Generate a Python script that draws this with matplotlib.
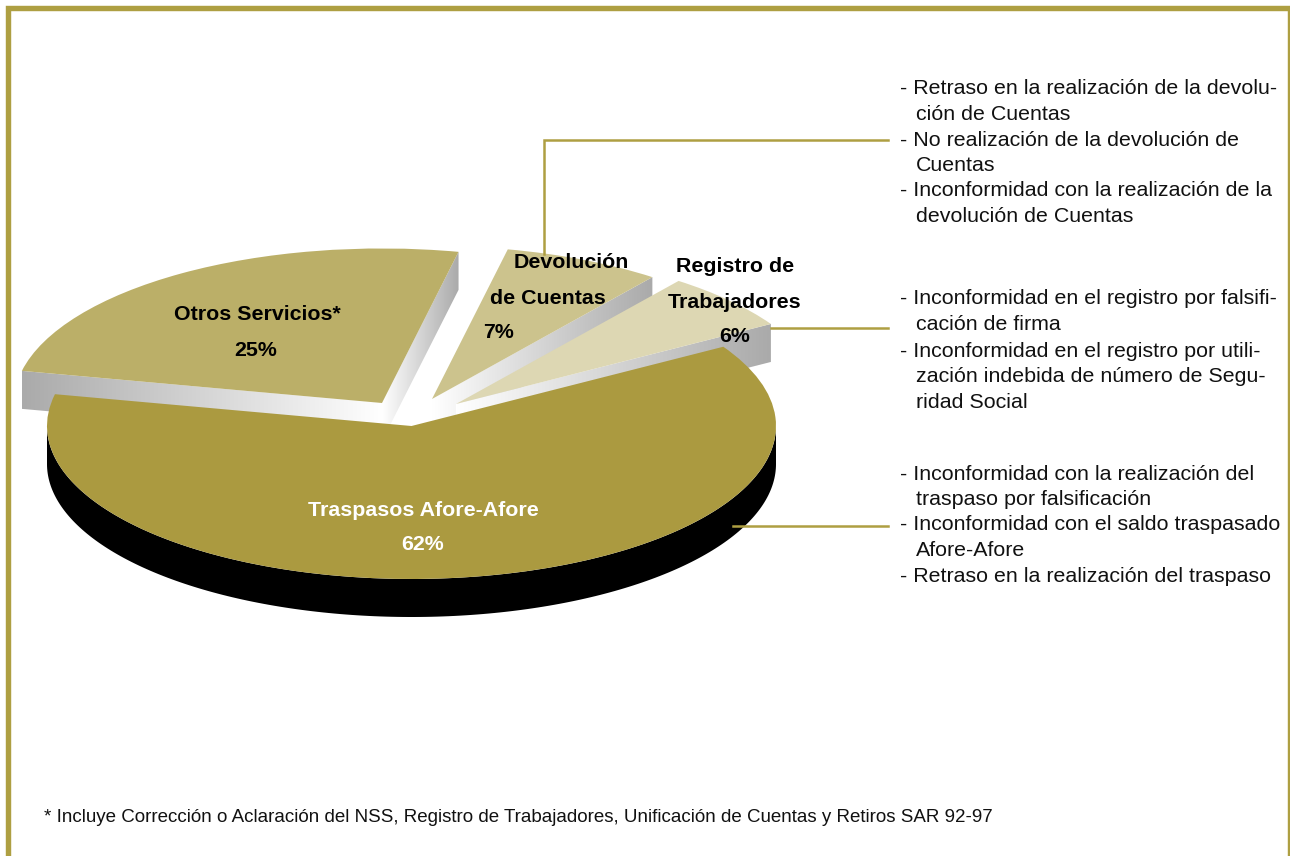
import numpy as np
import matplotlib
matplotlib.use("Agg")
import matplotlib.pyplot as plt
from matplotlib.colors import LinearSegmentedColormap
from matplotlib.patches import Polygon

W, H = 1290, 856
plt.rcParams["font.family"] = ["Liberation Sans", "DejaVu Sans"]

# chart data
slices = ["Otros Servicios*", "Devolución\nde Cuentas", "Registro de\nTrabajadores", "Traspasos Afore-Afore"]
shares = [25, 7, 6, 62]
footnote = "* Incluye Corrección o Aclaración del NSS, Registro de Trabajadores, Unificación de Cuentas y Retiros SAR 92-97"
notes_devolucion = [
    "- Retraso en la realización de la devolu-",
    "ción de Cuentas",
    "- No realización de la devolución de",
    "Cuentas",
    "- Inconformidad con la realización de la",
    "devolución de Cuentas",
]
notes_registro = [
    "- Inconformidad en el registro por falsifi-",
    "cación de firma",
    "- Inconformidad en el registro por utili-",
    "zación indebida de número de Segu-",
    "ridad Social",
]
notes_traspasos = [
    "- Inconformidad con la realización del",
    "traspaso por falsificación",
    "- Inconformidad con el saldo traspasado",
    "Afore-Afore",
    "- Retraso en la realización del traspaso",
]

# colours and layout, in pixels of the output image
GOLD = "#AE9F42"
colors = ["#BBAF68", "#CCC38D", "#DDD7B3", "#AB9A40"]
text_colors = ["black", "black", "black", "white"]
start_angle = 168
cx, cy = 411.5, 426
rx, ry = 364.5, 153
depth = 38
offsets = [(-29.5, -23), (20.5, -27), (44.5, -22), (0, 0)]
radii = [1.01, 1.0, 1.01, 1.0]
label_pos = [
    [(257, 314), (256, 350)],
    [(571, 262), (548, 298), (499, 333)],
    [(735, 266), (735, 302), (735, 337)],
    [(423, 510), (423, 545)],
]

fig = plt.figure(figsize=(W / 100, H / 100), dpi=100, facecolor="white")

# pie axes: one data unit is rx pixels across and ry pixels down
ax = fig.add_axes([0, 0, 1, 1])
wedges, _ = ax.pie(shares, colors=colors, startangle=start_angle, counterclock=False,
                   wedgeprops={"linewidth": 0})
ax.set_aspect("auto")
xlim = (-cx / rx, (W - cx) / rx)
ylim = ((cy - H) / ry, cy / ry)
drop = depth / ry
side_cmap = LinearSegmentedColormap.from_list("side", ["#FFFFFF", "#AAAAAA"])


def add_side(apex, angle, radius, zorder):
    # flat cut face below one straight edge of a slice, white at the centre
    far = (apex[0] + radius * np.cos(np.radians(angle)), apex[1] + radius * np.sin(np.radians(angle)))
    quad = [apex, far, (far[0], far[1] - drop), (apex[0], apex[1] - drop)]
    grad = np.linspace(0, 1, 256)[None, :]
    if far[0] < apex[0]:
        grad = grad[:, ::-1]
    left, right = sorted((apex[0], far[0]))
    im = ax.imshow(grad, cmap=side_cmap, vmin=0, vmax=1, aspect="auto", zorder=zorder,
                   extent=(left, right, min(far[1], apex[1]) - drop, max(far[1], apex[1])))
    im.set_clip_path(Polygon(quad, transform=ax.transData))


theta = start_angle
for i, (wedge, share) in enumerate(zip(wedges, shares)):
    center = (offsets[i][0] / rx, -offsets[i][1] / ry)
    wedge.set_center(center)
    wedge.set_radius(radii[i])
    wedge.set_zorder(2 * i + 3)
    end = theta - share * 3.6
    if i < 3:
        add_side(center, end, radii[i], 2 * i + 2)
    if i == 0:
        add_side(center, theta, radii[i], 2 * i + 2)
    theta = end

# black rim of the big slice
t = np.radians(np.linspace(180, 360, 200))
rim = np.r_[np.c_[np.cos(t), np.sin(t)], np.c_[np.cos(t), np.sin(t) - drop][::-1]]
ax.add_patch(Polygon(rim, closed=True, facecolor="black", edgecolor="none", zorder=8))
wedges[3].set_zorder(9)
ax.set_xlim(xlim)
ax.set_ylim(ylim)
ax.axis("off")

# overlay in pixels for the frame, leader lines and text
top = fig.add_axes([0, 0, 1, 1], facecolor="none")
top.set_xlim(0, W)
top.set_ylim(H, 0)
top.axis("off")

frame_x = [7.5, 7.5, 1290, 1290]
frame_y = [H, 7.7, 7.7, H]
top.plot(frame_x, frame_y, color=GOLD, lw=3.9, solid_joinstyle="miter", solid_capstyle="butt")
top.plot([544, 544, 888], [254, 140, 140], color=GOLD, lw=1.8, solid_joinstyle="miter")
top.plot([771, 888], [328, 328], color=GOLD, lw=1.8)
top.plot([733, 888], [526, 526], color=GOLD, lw=1.8)

for i, name in enumerate(slices):
    lines = name.split("\n") + [f"{shares[i]}%"]
    for line, (x, y) in zip(lines, label_pos[i]):
        top.text(x, y, line, color=text_colors[i], fontsize=15.4, fontweight="bold",
                 ha="center", va="center")

note_blocks = [
    (notes_devolucion, [88, 114, 140, 165, 190, 216]),
    (notes_registro, [299, 325, 351, 376, 402]),
    (notes_traspasos, [474, 499, 525, 550, 576]),
]
for lines, ys in note_blocks:
    for line, y in zip(lines, ys):
        x = 900 if line.startswith("-") else 916
        top.text(x, y, line, color="#111111", fontsize=15.4, ha="left", va="center")

top.text(44, 817, footnote, color="#111111", fontsize=13.5, ha="left", va="center")

fig.savefig("out.png", dpi=100)
